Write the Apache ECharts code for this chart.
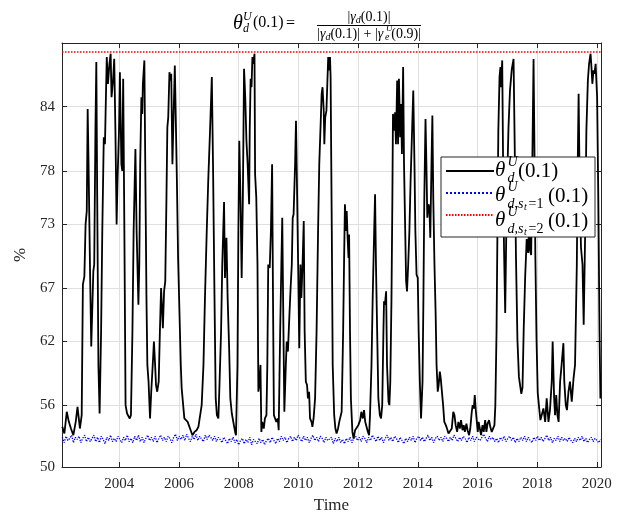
<!DOCTYPE html>
<html>
<head>
<meta charset="utf-8">
<script src="https://cdn.jsdelivr.net/npm/echarts@6/dist/echarts.min.js"></script>
<style>html,body{margin:0;padding:0;background:#fff}#c{width:621px;height:515px}</style>
</head>
<body>
<div id="c"></div>
<script>
// ---------- data ----------
const xTicks = [2004, 2006, 2008, 2010, 2012, 2014, 2016, 2018, 2020];
const yTicks = [50, 55.84, 61.84, 66.88, 72.94, 77.93, 84];
const yTickLabels = ['50', '56', '62', '67', '73', '78', '84'];
const xMin = 2002.08, xMax = 2020.14;
const yMin = 50, yMax = 90;

const timeBlack = [
2002.09,2002.16,2002.24,2002.31,2002.38,2002.46,2002.54,2002.60,2002.68,2002.74,2002.78,2002.83,2002.87,2002.91,2002.94,2002.97,
2003.02,2003.06,2003.10,2003.13,2003.16,2003.20,2003.23,2003.26,2003.30,2003.34,2003.39,2003.43,2003.48,2003.52,2003.54,2003.58,
2003.62,2003.67,2003.71,2003.74,2003.79,2003.83,2003.87,2003.91,2003.94,2003.99,2004.02,2004.07,2004.10,2004.13,2004.17,2004.21,
2004.26,2004.30,2004.35,2004.39,2004.44,2004.48,2004.54,2004.58,2004.64,2004.67,2004.70,2004.74,2004.77,2004.79,2004.84,2004.87,
2004.91,2004.94,2004.98,2005.03,2005.07,2005.12,2005.16,2005.20,2005.23,2005.27,2005.32,2005.36,2005.40,2005.43,2005.46,2005.50,
2005.54,2005.58,2005.61,2005.64,2005.68,2005.71,2005.74,2005.78,2005.82,2005.86,2005.89,2005.93,2005.97,2006.01,2006.06,2006.09,
2006.13,2006.18,2006.22,2006.29,2006.37,2006.45,2006.52,2006.59,2006.65,2006.70,2006.76,2006.82,2006.87,2006.93,2006.98,2007.04,
2007.10,2007.14,2007.19,2007.23,2007.27,2007.32,2007.36,2007.41,2007.45,2007.51,2007.54,2007.59,2007.63,2007.68,2007.72,2007.77,
2007.82,2007.88,2007.91,2007.96,2007.99,2008.02,2008.06,2008.10,2008.14,2008.18,2008.22,2008.26,2008.30,2008.35,2008.37,2008.40,
2008.43,2008.46,2008.49,2008.53,2008.55,2008.59,2008.63,2008.66,2008.69,2008.73,2008.76,2008.79,2008.84,2008.88,2008.93,2008.96,
2008.99,2009.04,2009.08,2009.12,2009.15,2009.18,2009.22,2009.26,2009.31,2009.34,2009.39,2009.43,2009.46,2009.50,2009.53,2009.58,
2009.61,2009.65,2009.70,2009.74,2009.78,2009.81,2009.84,2009.89,2009.92,2009.96,2010.00,2010.03,2010.07,2010.10,2010.14,2010.18,
2010.21,2010.25,2010.29,2010.32,2010.36,2010.39,2010.44,2010.47,2010.51,2010.56,2010.61,2010.66,2010.70,2010.75,2010.78,2010.81,
2010.85,2010.87,2010.90,2010.94,2010.97,2011.00,2011.04,2011.06,2011.08,2011.12,2011.15,2011.20,2011.24,2011.28,2011.33,2011.37,
2011.42,2011.45,2011.50,2011.53,2011.56,2011.60,2011.62,2011.65,2011.68,2011.70,2011.73,2011.76,2011.81,2011.85,2011.90,2011.95,
2012.01,2012.07,2012.11,2012.16,2012.20,2012.24,2012.29,2012.33,2012.37,2012.40,2012.45,2012.49,2012.54,2012.57,2012.60,2012.64,
2012.68,2012.73,2012.77,2012.81,2012.85,2012.87,2012.90,2012.94,2012.97,2013.02,2013.05,2013.08,2013.12,2013.15,2013.17,2013.19,
2013.22,2013.24,2013.27,2013.31,2013.34,2013.37,2013.41,2013.44,2013.47,2013.51,2013.54,2013.58,2013.61,2013.64,2013.68,2013.72,
2013.76,2013.81,2013.85,2013.89,2013.92,2013.96,2014.00,2014.03,2014.07,2014.11,2014.16,2014.19,2014.22,2014.26,2014.29,2014.32,
2014.36,2014.39,2014.42,2014.46,2014.49,2014.52,2014.56,2014.60,2014.63,2014.67,2014.70,2014.74,2014.77,2014.80,2014.85,2014.89,
2014.94,2014.98,2015.03,2015.08,2015.14,2015.19,2015.23,2015.27,2015.32,2015.36,2015.41,2015.45,2015.50,2015.54,2015.58,2015.63,
2015.67,2015.72,2015.76,2015.81,2015.84,2015.88,2015.91,2015.94,2015.98,2016.01,2016.04,2016.08,2016.12,2016.17,2016.21,2016.26,
2016.30,2016.34,2016.39,2016.43,2016.48,2016.52,2016.57,2016.60,2016.64,2016.67,2016.70,2016.74,2016.77,2016.79,2016.83,2016.86,
2016.89,2016.93,2016.98,2017.04,2017.09,2017.15,2017.21,2017.25,2017.29,2017.34,2017.39,2017.43,2017.47,2017.51,2017.55,2017.60,
2017.65,2017.70,2017.73,2017.76,2017.80,2017.84,2017.88,2017.91,2017.94,2017.98,2018.02,2018.07,2018.11,2018.16,2018.21,2018.27,
2018.32,2018.38,2018.43,2018.49,2018.52,2018.57,2018.60,2018.64,2018.68,2018.72,2018.77,2018.82,2018.88,2018.91,2018.96,2019.00,
2019.05,2019.10,2019.16,2019.22,2019.27,2019.33,2019.36,2019.39,2019.43,2019.47,2019.52,2019.56,2019.61,2019.65,2019.70,2019.74,
2019.79,2019.82,2019.85,2019.89,2019.92,2019.96,2020.01,2020.05,2020.09,2020.12
];
const thetaBlack = [
53.79,53.16,55.21,54.26,53.63,53.00,54.26,55.68,53.63,54.89,67.21,67.99,72.89,74.15,83.78,78.57,
68.47,61.37,61.21,68.47,69.10,81.73,88.20,75.41,59.63,55.05,62.79,72.26,81.10,80.46,83.31,88.67,
86.15,88.04,88.99,84.88,86.46,88.51,81.73,72.89,77.00,81.73,87.25,78.57,77.94,86.62,72.26,55.84,
55.05,54.89,54.58,54.89,62.79,72.26,79.99,72.26,65.31,69.10,78.57,84.88,83.31,86.15,88.36,78.57,
65.94,59.63,58.05,54.58,57.10,59.63,61.84,59.63,57.73,57.10,58.05,62.79,66.89,65.00,63.10,66.57,
67.52,75.41,82.04,82.99,87.25,86.46,87.09,78.57,83.31,87.88,83.31,76.99,69.73,69.73,59.63,57.42,
57.26,54.58,54.42,54.26,53.63,53.00,53.31,53.47,53.79,53.95,55.84,59.63,65.94,72.26,76.99,81.73,
86.78,78.57,65.94,56.47,54.89,54.58,58.05,62.79,69.10,75.00,67.84,71.63,65.94,61.21,56.47,55.05,
54.89,53.31,53.00,59.63,72.26,80.78,75.41,67.84,75.41,87.57,84.88,80.78,78.57,74.78,81.73,86.62,
85.83,88.67,88.04,88.99,77.62,75.41,69.10,57.10,57.73,59.63,53.31,54.26,53.63,54.58,54.89,59.63,
69.10,68.78,72.26,78.57,65.94,54.89,54.58,54.26,54.58,53.47,62.79,69.10,73.52,62.79,55.21,59.63,
61.84,60.89,64.36,66.89,69.10,73.52,73.84,78.57,82.67,75.41,67.52,61.21,69.10,65.94,69.10,73.20,
62.79,58.05,57.73,56.47,57.10,54.58,54.26,53.79,54.58,56.47,62.79,72.26,78.57,82.67,85.20,85.83,
83.62,80.46,82.99,83.62,86.15,88.67,87.41,88.67,86.78,72.26,59.63,54.89,53.63,53.16,53.63,54.26,
54.42,55.21,62.79,69.10,74.78,72.26,74.15,71.63,69.73,71.94,62.79,56.47,53.31,52.68,53.47,53.63,
53.95,54.42,55.21,54.58,55.37,54.26,54.42,53.31,53.00,54.89,59.63,65.94,72.26,75.73,69.10,62.79,
56.47,54.89,54.58,55.84,62.79,65.63,65.31,66.57,59.63,56.16,55.84,58.05,65.94,75.41,83.31,83.31,
81.73,83.46,80.46,86.46,80.46,86.62,81.10,84.25,79.52,87.73,78.57,72.26,67.52,66.57,69.10,72.26,
76.99,81.73,85.52,78.57,72.26,68.15,67.84,62.79,58.05,54.58,58.05,65.94,75.41,82.83,78.57,73.52,
74.78,74.47,71.63,78.57,83.15,75.41,69.10,64.36,59.63,57.10,57.73,59.00,58.37,57.42,55.84,54.26,
53.95,53.63,53.16,53.00,53.63,55.21,54.89,53.95,53.31,54.26,53.63,54.42,53.47,53.95,53.31,54.10,
53.47,53.00,53.63,55.21,55.84,55.52,56.79,55.52,54.26,53.31,54.26,53.63,53.00,53.95,53.31,54.42,
53.31,54.10,54.42,53.79,53.31,53.47,53.95,55.84,62.79,72.26,81.73,86.78,87.73,85.83,88.36,78.57,
70.68,64.52,75.00,82.00,85.50,87.50,88.50,80.00,70.00,62.00,58.50,57.70,56.90,57.50,63.00,68.00,
71.50,70.20,73.00,70.50,70.00,79.00,88.50,80.00,70.00,62.00,57.00,55.50,54.42,54.42,55.52,54.26,
56.47,54.26,55.37,58.05,61.84,56.47,54.89,56.79,54.89,54.26,58.05,59.63,61.68,58.05,55.84,55.37,
57.10,58.05,56.16,58.37,59.63,69.10,78.57,85.20,75.41,70.68,69.10,63.42,72.26,81.73,86.46,88.04,
88.99,87.73,86.15,87.41,87.09,88.04,84.88,75.41,62.79,56.47
];

const blueStart = 2002.09, blueStep = 0.0622;
const thetaBlue = [
52.8,52.3,52.9,52.5,52.7,53.0,52.3,52.8,52.6,52.9,52.3,52.7,53.0,52.4,52.8,52.4,
52.7,53.0,52.4,52.8,52.3,52.9,52.6,52.2,52.8,52.5,53.0,52.4,52.7,52.4,52.9,52.6,
52.3,52.8,52.5,53.0,52.4,52.7,52.3,52.9,52.5,53.0,52.4,52.8,52.3,52.7,53.0,52.5,
52.8,52.4,52.9,52.3,52.7,53.0,52.5,52.8,52.4,52.9,52.7,52.3,52.8,53.1,52.5,52.9,
52.6,53.0,52.5,53.1,52.7,52.4,52.9,52.6,53.1,52.5,52.9,52.8,52.4,53.0,52.6,53.0,
52.8,52.5,52.9,52.4,52.8,52.6,52.3,52.8,52.5,52.2,52.7,52.4,52.8,52.3,52.6,52.1,
52.5,52.7,52.2,52.6,52.3,52.8,52.1,52.6,52.4,52.2,52.7,52.3,52.6,52.1,52.5,52.7,
52.3,52.8,52.5,52.2,52.7,52.4,52.9,52.5,52.8,52.3,52.7,52.9,52.4,52.8,52.5,53.0,
52.7,52.4,52.9,52.5,52.8,52.3,52.7,53.0,52.5,52.8,52.4,52.9,52.7,52.3,52.8,52.5,
52.4,52.8,52.2,52.7,52.4,52.8,52.3,52.6,52.2,52.7,52.4,52.8,52.3,52.7,52.9,52.5,
52.8,52.4,52.9,52.7,52.3,52.8,52.5,53.0,52.7,52.4,52.9,52.5,52.8,52.3,52.7,53.0,
52.5,52.8,52.4,52.9,52.7,52.3,52.8,52.5,52.2,52.7,52.4,52.8,52.5,52.9,52.3,52.7,
52.9,52.5,52.8,52.4,52.7,53.0,52.5,52.8,52.3,52.7,52.9,52.5,52.8,52.4,52.9,52.7,
52.4,52.8,52.5,53.0,52.7,52.4,52.8,52.5,52.9,52.7,52.3,52.8,52.5,52.9,52.4,52.8,
52.9,52.5,52.8,53.1,52.7,52.4,52.9,52.6,52.8,52.4,52.7,52.3,52.8,52.5,52.9,52.4,
52.7,52.9,52.5,52.8,52.3,52.7,52.4,52.8,52.5,52.9,52.4,52.8,52.5,52.3,52.8,52.5,
52.9,52.5,52.8,52.4,52.7,53.0,52.5,52.8,52.3,52.7,52.5,52.9,52.4,52.8,52.5,52.7,
52.4,52.8,52.5,52.3,52.7,52.4,52.8,52.5,52.9,52.4,52.7,52.3,52.6,52.8,52.4,52.7,
52.5,52.3,52.6
];
const thetaRed = 89.15;

const seriesNames = ['theta_d^U(0.1)', 'theta_{d,s_t=1}^U(0.1)', 'theta_{d,s_t=2}^U(0.1)'];

// ---------- build ----------
const blackData = timeBlack.map((t, i) => [t, thetaBlack[i]]);
const blueData = thetaBlue.map((v, i) => [blueStart + i * blueStep, v]);
const redData = [[xMin, thetaRed], [xMax, thetaRed]];

const SERIF = '"Liberation Serif", "DejaVu Serif", serif';
const AX = '#262626';

function T(text, x, y, size, italic, align) {
  return { type: 'text', x: x, y: y, z: 100, silent: true,
    style: { text: text, fill: '#000', align: align || 'left', verticalAlign: 'middle',
      font: (italic ? 'italic ' : '') + size + 'px ' + SERIF } };
}
const richFrac = {
  n: { fontSize: 14, fontFamily: SERIF, lineHeight: 16, fill: '#000' },
  i: { fontSize: 14, fontFamily: SERIF, fontStyle: 'italic', lineHeight: 16, fill: '#000' },
  s: { fontSize: 10, fontFamily: SERIF, fontStyle: 'italic', lineHeight: 10, verticalAlign: 'bottom', fill: '#000' },
  se: { fontSize: 10, fontFamily: SERIF, fontStyle: 'italic', lineHeight: 10, verticalAlign: 'bottom', width: 8, fill: '#000' }
};

const graphics = [
  // title
  T('θ', 233, 23.5, 20, true),
  T('U', 243, 17, 12, true),
  T('d', 243, 29, 12, true),
  T('(0.1)', 253, 23, 16, false),
  T('=', 286, 23.5, 16, false),
  { type: 'text', x: 369, y: 17.5, z: 100, silent: true,
    style: { text: '{n||}{i|γ}{s|d}{n|(0.1)|}', rich: richFrac, align: 'center', verticalAlign: 'middle' } },
  { type: 'line', z: 100, silent: true, shape: { x1: 317, y1: 25.5, x2: 421, y2: 25.5 }, style: { stroke: '#000', lineWidth: 1 } },
  { type: 'text', x: 369, y: 34, z: 100, silent: true,
    style: { text: '{n||}{i|γ}{s|d}{n|(0.1)| + |}{i|γ}{se|e}{n|(0.9)|}', rich: richFrac, align: 'center', verticalAlign: 'middle' } },
  T('U', 386, 29, 9, true),
  // legend box
  { type: 'rect', z: 3.5, silent: true, shape: { x: 441, y: 157, width: 154, height: 80 },
    style: { fill: '#fff', stroke: AX, lineWidth: 1 } },
  // legend labels
  T('θ', 495, 170, 21, true), T('U', 507.5, 162, 14, true), T('d', 507.5, 178, 14, true), T('(0.1)', 518, 171, 21, false),
  T('θ', 495, 195, 21, true), T('U', 507.5, 187, 14, true), T('d,s', 507.5, 204, 14, true), T('t', 524, 207.5, 10, true), T('=1', 528.5, 204, 14, false), T('(0.1)', 548, 196, 21, false),
  T('θ', 495, 220, 21, true), T('U', 507.5, 212, 14, true), T('d,s', 507.5, 229, 14, true), T('t', 524, 232.5, 10, true), T('=2', 528.5, 229, 14, false), T('(0.1)', 548, 221, 21, false)
];

const chart = echarts.init(document.getElementById('c'), null, { renderer: 'canvas' });
chart.setOption({
  animation: false,
  backgroundColor: '#fff',
  grid: { left: 62, right: 20, top: 43, bottom: 48, containLabel: false, outerBoundsMode: 'none' },
  xAxis: [{
    type: 'value', min: xMin, max: xMax, position: 'bottom',
    name: 'Time', nameLocation: 'middle', nameGap: 30,
    nameTextStyle: { fontFamily: SERIF, fontSize: 17, color: AX },
    axisLine: { show: true, lineStyle: { color: AX, width: 1 } },
    axisTick: { show: true, inside: true, length: 5, customValues: xTicks, lineStyle: { color: AX } },
    axisLabel: { customValues: xTicks, fontFamily: SERIF, fontSize: 15, color: AX, margin: 10, formatter: v => String(v) },
    splitLine: { show: true, lineStyle: { color: '#e0e0e0', width: 1 } }
  }, {
    type: 'value', min: xMin, max: xMax, position: 'top',
    axisLine: { show: true, onZero: false, lineStyle: { color: AX, width: 1 } },
    axisTick: { show: true, inside: true, length: 5, customValues: xTicks, lineStyle: { color: AX } },
    axisLabel: { show: false, customValues: xTicks },
    splitLine: { show: false }
  }],
  yAxis: [{
    type: 'value', min: yMin, max: yMax, position: 'left',
    name: '%', nameLocation: 'middle', nameGap: 30, nameRotate: 90,
    nameTextStyle: { fontFamily: SERIF, fontSize: 17, color: AX },
    axisLine: { show: true, lineStyle: { color: AX, width: 1 } },
    axisTick: { show: true, inside: true, length: 5, customValues: yTicks, lineStyle: { color: AX } },
    axisLabel: { customValues: yTicks, fontFamily: SERIF, fontSize: 15, color: AX, margin: 7,
      formatter: v => { const k = yTicks.findIndex(t => Math.abs(t - v) < 1e-6); return k >= 0 ? yTickLabels[k] : ''; } },
    splitLine: { show: true, lineStyle: { color: '#e0e0e0', width: 1 } }
  }, {
    type: 'value', min: yMin, max: yMax, position: 'right',
    axisLine: { show: true, onZero: false, lineStyle: { color: AX, width: 1 } },
    axisTick: { show: true, inside: true, length: 5, customValues: yTicks, lineStyle: { color: AX } },
    axisLabel: { show: false, customValues: yTicks },
    splitLine: { show: false }
  }],
  legend: {
    orient: 'vertical', left: 441, top: 157,
    padding: [8, 4, 7, 4], itemGap: 10, itemWidth: 48, itemHeight: 15,
    backgroundColor: 'transparent', borderWidth: 0,
    itemStyle: { opacity: 0 },
    data: seriesNames,
    formatter: () => ' ',
    textStyle: { fontSize: 12 }
  },
  series: [{
    name: seriesNames[0], type: 'line', data: blackData, symbol: 'none', z: 3,
    lineStyle: { color: '#000', width: 1.8 }, itemStyle: { color: '#000' }
  }, {
    name: seriesNames[1], type: 'line', data: blueData, symbol: 'none', z: 2,
    lineStyle: { color: '#0000ff', width: 1.3, type: 'dotted' }, itemStyle: { color: '#0000ff' }
  }, {
    name: seriesNames[2], type: 'line', data: redData, symbol: 'none', z: 2,
    lineStyle: { color: '#ff0000', width: 1.5, type: [1.5, 1.5] }, itemStyle: { color: '#ff0000' }
  }],
  graphic: graphics
});
</script>
</body>
</html>
